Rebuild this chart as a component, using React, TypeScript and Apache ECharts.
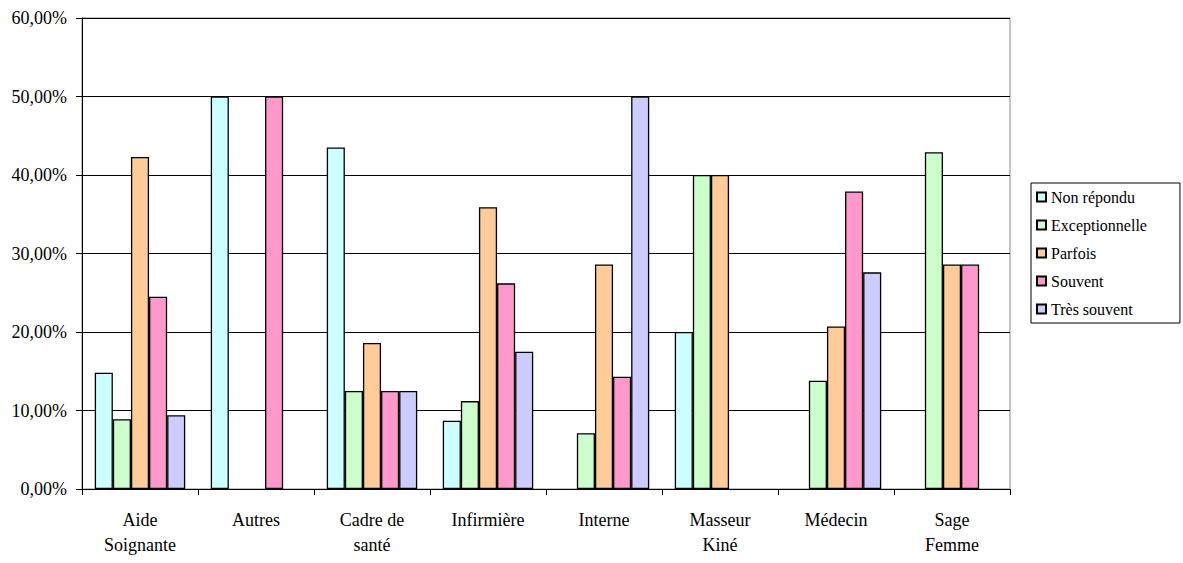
import React, { useEffect, useRef } from "react";
import * as echarts from "echarts";

const categories = [
  "Aide\nSoignante",
  "Autres",
  "Cadre de\nsanté",
  "Infirmière",
  "Interne",
  "Masseur\nKiné",
  "Médecin",
  "Sage\nFemme",
];

const seriesNames = ["Non répondu", "Exceptionnelle", "Parfois", "Souvent", "Très souvent"];
const seriesColors = ["#CCFFFF", "#CCFFCC", "#FFCC99", "#FF99CC", "#CCCCFF"];

const nonRepondu = [14.8, 50, 43.5, 8.7, null, 20, null, null];
const exceptionnelle = [8.9, null, 12.5, 11.2, 7.1, 40, 13.8, 42.9];
const parfois = [42.3, null, 18.6, 35.9, 28.6, 40, 20.7, 28.6];
const souvent = [24.5, 50, 12.5, 26.2, 14.3, null, 37.9, 28.6];
const tresSouvent = [9.4, null, 12.5, 17.5, 50, null, 27.6, null];

const seriesData = [nonRepondu, exceptionnelle, parfois, souvent, tresSouvent];

const FONT = "serif";
const TEXT = "#000000";

export default function App() {
  const ref = useRef<HTMLDivElement>(null);
  useEffect(() => {
    if (!ref.current) return;
    const chart = echarts.init(ref.current, null, { renderer: "svg" });
    chart.setOption({
      animation: false,
      textStyle: { fontFamily: FONT },
      grid: {
        left: 82,
        top: 18,
        right: 173,
        bottom: 74,
        show: true,
        borderColor: "#888888",
        borderWidth: 1,
      },
      legend: {
        orient: "vertical",
        left: 1031,
        top: 183,
        itemWidth: 9,
        itemHeight: 9,
        itemGap: 12,
        padding: [6, 33, 6, 5],
        borderColor: "#000",
        borderWidth: 1,
        icon: "rect",
        textStyle: { fontFamily: FONT, fontSize: 16, color: TEXT },
        data: seriesNames,
      },
      xAxis: {
        type: "category",
        data: categories,
        axisLine: { lineStyle: { color: "#000", width: 1 } },
        axisTick: { show: true, alignWithLabel: false, length: 6, lineStyle: { color: "#000" } },
        axisLabel: {
          fontFamily: FONT,
          fontSize: 18,
          color: TEXT,
          margin: 18,
          lineHeight: 25,
          interval: 0,
        },
      },
      yAxis: {
        type: "value",
        min: 0,
        max: 60,
        interval: 10,
        axisLine: { show: true, lineStyle: { color: "#000", width: 1 } },
        axisTick: { show: true, length: 6, lineStyle: { color: "#000" } },
        axisLabel: {
          fontFamily: FONT,
          fontSize: 18,
          color: TEXT,
          margin: 15,
          formatter: (v: number) => v.toFixed(2).replace(".", ",") + "%",
        },
        splitLine: { show: true, lineStyle: { color: "#000", width: 1 } },
      },
      series: seriesNames.map((name, i) => ({
        name,
        type: "bar",
        data: seriesData[i],
        barGap: "0%",
        barCategoryGap: "22%",
        itemStyle: { color: seriesColors[i], borderColor: "#000", borderWidth: 1.3 },
      })),
    });
    return () => chart.dispose();
  }, []);
  return (
    <div
      ref={ref}
      style={{ position: "absolute", left: 0, top: 0, width: 1183, height: 563, background: "#fff" }}
    />
  );
}
